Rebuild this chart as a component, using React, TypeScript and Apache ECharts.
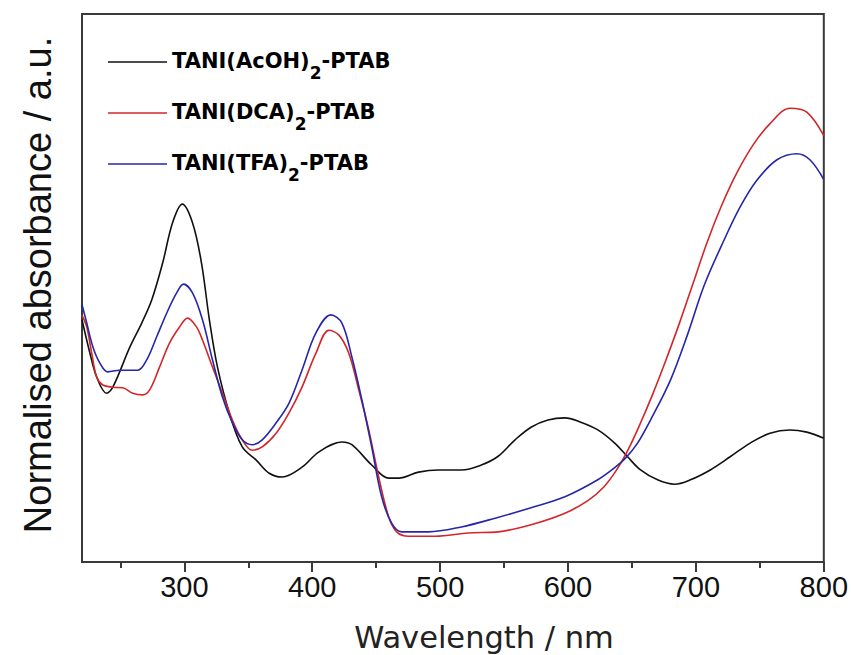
import React, { useEffect, useRef } from "react";
import * as echarts from "echarts";

// Wavelength (nm) and normalised absorbance (a.u., 0 = bottom axis, 1 = top frame)
const wlAcOH = [220, 226.2, 231.4, 239.2, 244.1, 257.4, 266.7, 274.5, 283.1, 290.8, 298.4, 306.4, 313.4, 319.6, 325.9, 335.2, 345.3, 356.2, 366.4, 376.5, 392, 405.3, 423.2, 431, 446.5, 459.8, 467.6, 483.1, 498.7, 516.6, 532.2, 545.4, 558.6, 571.1, 584.3, 597.6, 610, 623.3, 636.5, 646.6, 656.7, 670, 683.2, 695.7, 711.2, 726.8, 742.4, 757.9, 773.5, 786.7, 800];
const absAcOH = [0.442, 0.381, 0.338, 0.308, 0.319, 0.392, 0.436, 0.478, 0.546, 0.619, 0.653, 0.619, 0.546, 0.442, 0.356, 0.272, 0.21, 0.186, 0.162, 0.155, 0.173, 0.201, 0.219, 0.214, 0.177, 0.153, 0.153, 0.164, 0.168, 0.168, 0.177, 0.193, 0.223, 0.246, 0.259, 0.263, 0.255, 0.241, 0.217, 0.192, 0.168, 0.15, 0.142, 0.15, 0.168, 0.192, 0.217, 0.235, 0.241, 0.237, 0.226];

const wlDCA = [220, 223.7, 227.6, 231.4, 236.3, 244.1, 251.9, 259.7, 267.5, 272.9, 280.7, 288.5, 296.3, 302.5, 309.5, 314.2, 322, 329.8, 337.6, 345.3, 353.1, 360.9, 371.8, 381.9, 392, 402.9, 413.1, 420.9, 428.6, 436.4, 444.2, 452, 459.8, 466, 475.3, 496.4, 522.1, 545.4, 571.1, 597.6, 615.5, 628, 638, 647, 656, 666, 676, 687, 698, 709, 720, 732, 745, 758, 773.5, 786.7, 800];
const absDCA = [0.45, 0.429, 0.381, 0.338, 0.323, 0.319, 0.318, 0.308, 0.305, 0.314, 0.356, 0.4, 0.429, 0.445, 0.429, 0.405, 0.356, 0.308, 0.259, 0.223, 0.204, 0.21, 0.235, 0.272, 0.319, 0.381, 0.423, 0.414, 0.381, 0.314, 0.241, 0.155, 0.082, 0.055, 0.047, 0.047, 0.053, 0.055, 0.068, 0.089, 0.112, 0.137, 0.168, 0.205, 0.25, 0.305, 0.365, 0.435, 0.51, 0.585, 0.65, 0.71, 0.762, 0.8, 0.828, 0.821, 0.778];

const wlTFA = [220, 223.7, 228.6, 234, 240.2, 249.6, 263.6, 270.6, 278.4, 286.2, 294, 299.4, 306.4, 314.2, 322, 329.8, 337.6, 345.3, 353.1, 360.9, 371.8, 381.9, 392, 402.9, 414.6, 423.2, 431, 438.8, 446.5, 454.3, 462.1, 469.9, 490.9, 516.6, 543.1, 571.1, 597.6, 623.3, 636.5, 645.1, 654.4, 664.5, 680.1, 693.3, 706.5, 722.1, 734.6, 747.8, 763.4, 779, 789.1, 800];
const absTFA = [0.47, 0.436, 0.392, 0.363, 0.347, 0.35, 0.35, 0.369, 0.411, 0.454, 0.491, 0.507, 0.491, 0.442, 0.369, 0.301, 0.254, 0.223, 0.214, 0.223, 0.254, 0.29, 0.35, 0.418, 0.451, 0.436, 0.374, 0.296, 0.21, 0.119, 0.071, 0.055, 0.055, 0.064, 0.08, 0.099, 0.119, 0.15, 0.172, 0.19, 0.217, 0.259, 0.332, 0.414, 0.505, 0.588, 0.648, 0.697, 0.734, 0.745, 0.734, 0.698];

const majorTicks = [300, 400, 500, 600, 700, 800];
const minorTicks = [250, 350, 450, 550, 650, 750];

const seriesNames = ["TANI(AcOH)2-PTAB", "TANI(DCA)2-PTAB", "TANI(TFA)2-PTAB"];
const seriesColors = ["#111111", "#d3262a", "#2626a8"];

const xTitle = "Wavelength / nm";
const yTitle = "Normalised absorbance / a.u.";

const zip = (xs: number[], ys: number[]) => xs.map((x, i) => [x, ys[i]]);

export default function App() {
  const ref = useRef<HTMLDivElement>(null);
  useEffect(() => {
    if (!ref.current) return;
    const chart = echarts.init(ref.current, null, { renderer: "svg" });
    const datasets = [zip(wlAcOH, absAcOH), zip(wlDCA, absDCA), zip(wlTFA, absTFA)];
    const axisColor = "#3a3a3a";
    chart.setOption({
      animation: false,
      backgroundColor: "#ffffff",
      grid: {
        left: 82,
        top: 14,
        right: 24,
        bottom: 93,
        show: true,
        borderColor: axisColor,
        borderWidth: 2,
        backgroundColor: "transparent",
      },
      legend: {
        orient: "vertical",
        left: 103,
        top: 45,
        itemWidth: 59,
        itemHeight: 14,
        itemGap: 20,
        icon: "path://M0,0 L59,0 L59,1.6 L0,1.6 Z",
        data: seriesNames,
        formatter: (name: string) => {
          const i = name.indexOf(")2");
          return "{b|" + name.slice(0, i + 1) + "}{s|2}{b|" + name.slice(i + 2) + "}";
        },
        textStyle: {
          padding: [0, 0, 0, 0],
          rich: {
            b: {
              fontFamily: "DejaVu Sans",
              fontWeight: "bold",
              fontSize: 21,
              color: "#000",
              lineHeight: 24,
              verticalAlign: "top",
            },
            s: {
              fontFamily: "DejaVu Sans",
              fontWeight: "bold",
              fontSize: 17,
              color: "#000",
              lineHeight: 16,
              padding: [14, 0, 0, 0],
              verticalAlign: "top",
            },
          },
        },
      },
      xAxis: [
        {
          type: "value",
          min: 220,
          max: 800,
          position: "bottom",
          axisLine: { show: true, onZero: false, lineStyle: { color: axisColor, width: 2 } },
          axisTick: {
            show: true,
            inside: false,
            length: 10,
            customValues: majorTicks,
            lineStyle: { color: axisColor, width: 2 },
          },
          axisLabel: {
            show: true,
            customValues: majorTicks,
            margin: 10,
            color: "#111",
            fontFamily: "Liberation Sans",
            fontSize: 29,
            showMinLabel: true,
            showMaxLabel: true,
          },
          splitLine: { show: false },
        },
        {
          type: "value",
          min: 220,
          max: 800,
          position: "bottom",
          offset: 0,
          axisLine: { show: false, onZero: false },
          axisTick: {
            show: true,
            inside: false,
            length: 6,
            customValues: minorTicks,
            lineStyle: { color: axisColor, width: 2 },
          },
          axisLabel: { show: false },
          splitLine: { show: false },
        },
      ],
      yAxis: {
        type: "value",
        min: 0,
        max: 1,
        axisLine: { show: true, lineStyle: { color: axisColor, width: 2 } },
        axisTick: { show: false },
        axisLabel: { show: false },
        splitLine: { show: false },
      },
      graphic: [
        {
          type: "text",
          x: 484,
          y: 637,
          style: {
            text: xTitle,
            fontFamily: "DejaVu Sans",
            fontSize: 30.5,
            fontWeight: "normal",
            fill: "#222",
            align: "center",
            verticalAlign: "middle",
          },
        },
        {
          type: "text",
          x: 38,
          y: 285,
          rotation: Math.PI / 2,
          style: {
            text: yTitle,
            fontFamily: "Liberation Sans",
            fontSize: 38,
            fill: "#111",
            align: "center",
            verticalAlign: "middle",
          },
        },
      ],
      series: datasets.map((d, i) => ({
        name: seriesNames[i],
        type: "line",
        data: d,
        xAxisIndex: 0,
        showSymbol: false,
        symbol: "none",
        smooth: 0.35,
        clip: true,
        lineStyle: { color: seriesColors[i], width: 1.6 },
        itemStyle: { color: seriesColors[i] },
      })),
    });
    return () => chart.dispose();
  }, []);
  return <div ref={ref} style={{ width: 851, height: 655, position: "absolute", left: 0, top: 0 }} />;
}
